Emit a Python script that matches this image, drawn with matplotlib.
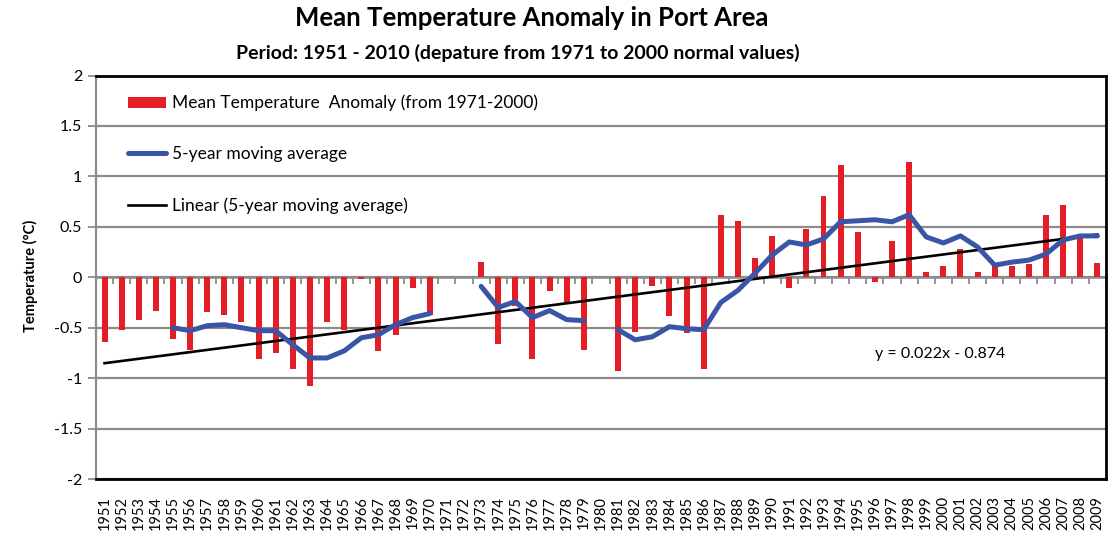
import matplotlib.pyplot as plt
import numpy as np

years = list(range(1951, 2010))

# yearly anomaly (deg C, departure from 1971-2000 normals); nan = no data
anomaly = [-0.64, -0.52, -0.42, -0.33, -0.61, -0.72, -0.34, -0.37, -0.44, -0.81,
           -0.75, -0.91, -1.08, -0.44, -0.52, -0.02, -0.73, -0.57, -0.11, -0.37,
           np.nan, np.nan, 0.15, -0.66, -0.28, -0.81, -0.14, -0.27, -0.72, np.nan,
           -0.93, -0.54, -0.09, -0.38, -0.55, -0.91, 0.62, 0.56, 0.19, 0.41,
           -0.11, 0.48, 0.81, 1.11, 0.45, -0.05, 0.36, 1.14, 0.05, 0.11,
           0.28, 0.05, 0.11, 0.11, 0.13, 0.62, 0.72, 0.39, 0.14]

# 5-year moving average
moving_avg = [np.nan, np.nan, np.nan, np.nan, -0.50, -0.53, -0.48, -0.47, -0.50, -0.53,
              -0.53, -0.67, -0.80, -0.80, -0.73, -0.60, -0.57, -0.47, -0.40, -0.36,
              np.nan, np.nan, -0.09, -0.30, -0.24, -0.40, -0.33, -0.42, -0.43, np.nan,
              -0.52, -0.62, -0.59, -0.49, -0.51, -0.52, -0.25, -0.13, 0.04, 0.22,
              0.35, 0.32, 0.38, 0.55, 0.56, 0.57, 0.55, 0.62, 0.40, 0.34,
              0.41, 0.30, 0.12, 0.15, 0.17, 0.23, 0.37, 0.41, 0.41]

# linear trend of the moving average, x = 1..59
slope = 0.022
intercept = -0.874

plt.rcParams['font.family'] = ['Lato', 'DejaVu Sans']

x = np.arange(len(years))
trend = slope * (x + 1) + intercept

fig = plt.figure(figsize=(11.16, 5.41), dpi=100)
ax = fig.add_axes([0.086, 0.1146, 0.905, 0.7458])

grid_col = '#8c8c8c'
bars = ax.bar(x, anomaly, width=0.35, color='#e41e26', zorder=2,
              label='Mean Temperature  Anomaly (from 1971-2000)')
ma_line, = ax.plot(x, moving_avg, color='#3b55a6', lw=3.6, solid_capstyle='round',
                   solid_joinstyle='round', zorder=4, label='5-year moving average')
trend_line, = ax.plot(x, trend, color='black', lw=1.9, zorder=3,
                      label='Linear (5-year moving average)')

ax.text(48.8, -0.76, 'y = 0.022x - 0.874', ha='center', va='center', fontsize=11.5)

ax.set_xlim(-0.5, len(years) - 0.5)
ax.set_ylim(-2, 2)
ax.set_yticks(np.arange(-2, 2.01, 0.5))
ax.set_yticklabels(['-2', '-1.5', '-1', '-0.5', '0', '0.5', '1', '1.5', '2'])
ax.yaxis.grid(True, color=grid_col, lw=1.6, zorder=0)
ax.set_axisbelow(True)
ax.tick_params(axis='y', direction='out', length=6, width=1.3, color=grid_col,
               labelsize=11.5, pad=4)

ax.set_xticks(x)
ax.set_xticklabels([str(y) for y in years], rotation=90, fontsize=10.5)
ax.tick_params(axis='x', length=0, pad=12)

for side in ['top', 'right', 'bottom']:
    ax.spines[side].set_color('black')
    ax.spines[side].set_linewidth(2)
ax.spines['left'].set_color(grid_col)
ax.spines['left'].set_linewidth(1.6)

# category axis crossing at zero, ticks between categories pointing down
zero_axis = ax.secondary_xaxis(0.5)
zero_axis.set_xticks(np.arange(len(years) + 1) - 0.5)
zero_axis.set_xticklabels([])
zero_axis.tick_params(direction='in', length=5, width=1.3, color=grid_col)
for sp in zero_axis.spines.values():
    sp.set_color(grid_col)
    sp.set_linewidth(1.8)

ax.legend(handles=[bars, ma_line, trend_line], loc='upper left',
          bbox_to_anchor=(0.025, 0.97), frameon=False,
          fontsize=12.5, labelspacing=2.02, handlelength=2.2,
          handleheight=0.6, handletextpad=0.3, borderaxespad=0)

fig.text(0.476, 0.966, 'Mean Temperature Anomaly in Port Area', ha='center',
         va='center', fontsize=18.5, fontweight='bold')
fig.text(0.464, 0.903, 'Period: 1951 - 2010 (depature from 1971 to 2000 normal values)',
         ha='center', va='center', fontsize=14, fontweight='bold')
fig.text(0.027, 0.49, 'Temperature (°C)', rotation=90, ha='center', va='center',
         fontsize=10.5, fontweight='bold')

fig.savefig('out.png', dpi=100)
